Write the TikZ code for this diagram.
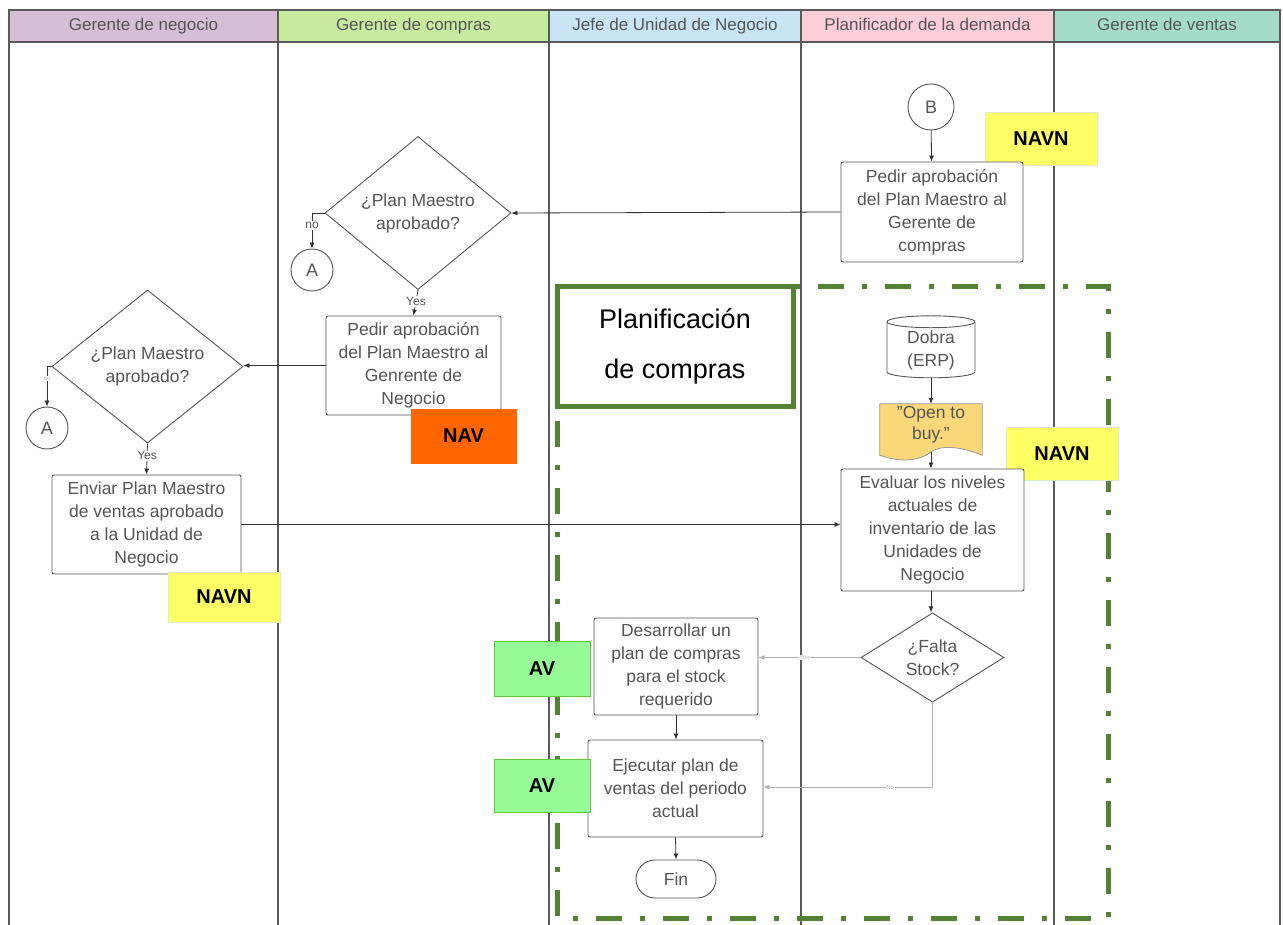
\documentclass[tikz,border=0pt]{standalone}
\usepackage{fontspec}
\setmainfont{Liberation Sans}
\usetikzlibrary{shapes.geometric,arrows.meta}
\definecolor{hpurple}{RGB}{215,190,215}
\definecolor{hgreen}{RGB}{200,235,160}
\definecolor{hblue}{RGB}{200,228,245}
\definecolor{hpink}{RGB}{250,205,215}
\definecolor{hteal}{RGB}{165,220,200}
\definecolor{txt}{RGB}{85,85,85}
\definecolor{frame}{RGB}{90,90,90}
\definecolor{pgreen}{RGB}{84,130,53}
\definecolor{navn}{RGB}{255,255,102}
\definecolor{navnb}{RGB}{220,235,200}
\definecolor{nav}{RGB}{255,102,0}
\definecolor{av}{RGB}{150,250,150}
\definecolor{avb}{RGB}{100,200,60}
\definecolor{docy}{RGB}{250,215,120}
\begin{document}
\begin{tikzpicture}[x=1pt,y=-1pt,
  hdr/.style={draw=frame, line width=1.2pt, minimum height=32pt, inner sep=0pt, text height=12.5pt, text depth=3.5pt, text=txt, font=\fontsize{17}{19}\selectfont},
  proc/.style={draw=txt, line width=0.9pt, rounded corners=2pt, fill=white, text=txt, align=center, inner sep=0pt, font=\fontsize{17.5}{23}\selectfont},
  dec/.style={diamond, draw=txt, line width=0.9pt, fill=white, text=txt, align=center, inner sep=0pt, font=\fontsize{17.5}{23}\selectfont},
  conncirc/.style={circle, draw=txt, line width=0.9pt, fill=white, text=txt, inner sep=0pt, font=\fontsize{18}{20}\selectfont},
  conn/.style={draw=black!80, line width=0.8pt, -{Latex[length=6pt,width=5pt]}},
  lconn/.style={draw=black!30, line width=1pt, -{Latex[length=6pt,width=5pt]}},
  lbl/.style={fill=white, text=txt, inner sep=1pt, font=\fontsize{12}{14}\selectfont},
  flbl/.style={fill=white, text=black!30, inner sep=0.5pt, font=\fontsize{6}{7}\selectfont},
  tagy/.style={fill=navn, draw=navnb, line width=0.8pt, inner sep=0pt, font=\fontsize{20}{24}\selectfont\bfseries},
  tago/.style={fill=nav, draw=nav, inner sep=0pt, font=\fontsize{20}{24}\selectfont\bfseries},
  taga/.style={fill=av, draw=avb, line width=0.8pt, inner sep=0pt, font=\fontsize{20}{24}\selectfont\bfseries}
]
\useasboundingbox (0,0) rectangle (1283,925);
\fill[white] (0,0) rectangle (1283,925);

% lanes
\foreach \x in {9,278,549,801,1054,1280}{\draw[frame, line width=1.2pt] (\x,42) -- (\x,925);}
\node[hdr, fill=hpurple, minimum width=269pt] (h1) at (143.5,26) {Gerente de negocio};
\node[hdr, fill=hgreen, minimum width=271pt] (h2) at (413.5,26) {Gerente de compras};
\node[hdr, fill=hblue, minimum width=252pt] (h3) at (675,26) {Jefe de Unidad de Negocio};
\node[hdr, fill=hpink, minimum width=253pt] (h4) at (927.5,26) {Planificador de la demanda};
\node[hdr, fill=hteal, minimum width=226pt] (h5) at (1167,26) {Gerente de ventas};

% dash-dot region
\draw[pgreen, line width=5pt, dash pattern=on 26pt off 18pt on 5pt off 18pt] (557,287) rectangle (1108,918);
\node[draw=pgreen, line width=5pt, fill=white, minimum width=236pt, minimum height=119pt, inner sep=0pt, align=center, font=\fontsize{27}{50}\selectfont] (pc) at (675,346.5) {Planificación\\de compras};

% Planificador lane
\node[conncirc, minimum size=46pt] (B) at (931,107) {B};
\node[tagy, minimum width=112pt, minimum height=53pt] (t1) at (1041,138.5) {NAVN};
\node[proc, minimum width=182pt, minimum height=100pt] (p1) at (932,212) {Pedir aprobación\\del Plan Maestro al\\Gerente de\\compras};

\node[cylinder, shape border rotate=90, aspect=0.25, draw=txt, line width=0.9pt, fill=white, text=txt, align=center, minimum width=88pt, minimum height=62pt, inner sep=0pt, font=\fontsize{17.5}{23}\selectfont] (db) at (931,350) {Dobra\\(ERP)};

\node[minimum width=102pt, minimum height=51pt, inner sep=0pt] (otb) at (931,429.5) {};
\filldraw[fill=docy, draw=black!40, line width=0.8pt] (otb.north west) -- (otb.north east) -- (otb.south east)
  .. controls (960,446) and (940,445) .. (931,452) .. controls (918,462) and (898,462) .. (otb.south west) -- cycle;
\node[text=txt, align=center, font=\fontsize{17.5}{21}\selectfont] (otbt) at (931,425) {\symbol{34}Open to\\buy.\symbol{34}};

\node[tagy, minimum width=112pt, minimum height=53pt] (t2) at (1062,453.5) {NAVN};
\node[proc, minimum width=183pt, minimum height=122pt] (ev) at (932.5,530) {Evaluar los niveles\\actuales de\\inventario de las\\Unidades de\\Negocio};
\node[dec, minimum width=143pt, minimum height=85pt] (fs) at (932.5,657.5) {¿Falta\\Stock?};

% Gerente de compras lane
\node[dec, minimum width=186pt, minimum height=140pt] (d1) at (418,213) {¿Plan Maestro\\aprobado?};
\node[conncirc, minimum size=42pt] (A1) at (312,270) {A};
\node[proc, minimum width=175pt, minimum height=99pt] (p2) at (413.5,365.5) {Pedir aprobación\\del Plan Maestro al\\Genrente de\\Negocio};
\node[tago, minimum width=105pt, minimum height=54pt] (t3) at (463.5,436) {NAV};

% Gerente de negocio lane
\node[dec, minimum width=191pt, minimum height=139pt] (d2) at (147.5,366.5) {¿Plan Maestro\\aprobado?};
\node[conncirc, minimum size=42pt] (A2) at (47,428) {A};
\node[proc, minimum width=189pt, minimum height=99pt] (p3) at (146.5,524.5) {Enviar Plan Maestro\\de ventas aprobado\\a la Unidad de\\Negocio};
\node[tagy, minimum width=112pt, minimum height=50pt] (t4) at (224,597) {NAVN};

% Jefe lane
\node[proc, minimum width=164pt, minimum height=97pt] (ds) at (676,666.5) {Desarrollar un\\plan de compras\\para el stock\\requerido};
\node[taga, minimum width=96pt, minimum height=55pt] (t5) at (542,668.5) {AV};
\node[proc, minimum width=175pt, minimum height=97pt] (ej) at (675.5,788.5) {Ejecutar plan de\\ventas del periodo\\actual};
\node[taga, minimum width=96pt, minimum height=53pt] (t6) at (542,785.5) {AV};
\node[draw=txt, line width=0.9pt, rounded corners=19pt, fill=white, text=txt, minimum width=80pt, minimum height=38pt, inner sep=0pt, font=\fontsize{17.5}{20}\selectfont] (fin) at (676,879) {Fin};

% connectors
\draw[conn] (B) -- (p1);
\draw[conn] (p1.west) -- (d1.east);
\draw[conn] (d1.west) -- (312,213) -- node[lbl, pos=0.35]{no} (A1.north);
\draw[conn] (d1.south) -- node[lbl, pos=0.45]{Yes} (p2.north);
\draw[conn] (p2.west) -- (p2.west -| d2.east);
\draw[conn] (d2.west) -- (47,366.5) -- node[flbl, pos=0.3]{no} (A2.north);
\draw[conn] (d2.south) -- node[lbl, pos=0.4]{Yes} (p3.north);
\draw[conn] (p3.east) -- (p3.east -| ev.west);
\draw[conn] (db) -- (otb.north);
\draw[conn] (931,452) -- (ev.north -| 931,0);
\draw[conn] (ev.south -| 931,0) -- (fs.north -| 931,0);
\draw[lconn] (fs.west) -- node[flbl, pos=0.55]{Yes} (fs.west -| ds.east);
\draw[lconn] (fs.south) -- (932.5,787) -- node[flbl, pos=0.25]{No} (ej.east |- 0,787);
\draw[conn] (ds.south) -- (ds.south |- ej.north);
\draw[conn] (ej.south) -- (fin.north);
\end{tikzpicture}
\end{document}
